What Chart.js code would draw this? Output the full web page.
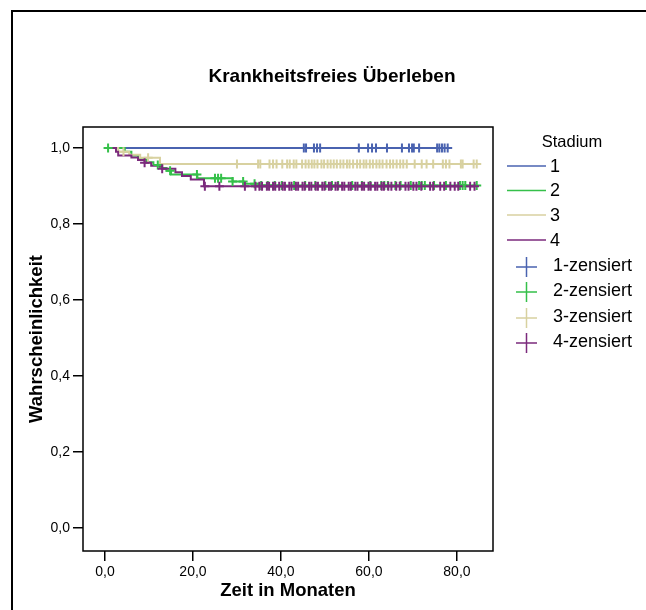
<!DOCTYPE html>
<html>
<head>
<meta charset="utf-8">
<title>Krankheitsfreies Überleben</title>
<script src="https://cdn.jsdelivr.net/npm/chart.js@4.4.1/dist/chart.umd.min.js"></script>
<style>
  html, body { margin: 0; padding: 0; background: #fff; }
  #wrap { position: relative; width: 646px; height: 610px; }
</style>
</head>
<body>
<div id="wrap"><canvas id="kmChart" width="646" height="610"></canvas></div>
<script>
// Kaplan-Meier steps per Stadium (Monate, Überlebensanteil)
const stadien = ['1', '2', '3', '4'];
const colors = ['#4a63b0', '#35c04a', '#d8d1a0', '#7b2a7c'];

const times1 = [0, 77.9];
const surv1 = [1, 1];
const times2 = [0, 4.5, 6.0, 7.5, 9.5, 11.0, 12.5, 14.0, 15.0, 21.0, 29.0, 31.5, 35.0, 84.5];
const surv2 = [1, 0.990, 0.980, 0.970, 0.962, 0.955, 0.947, 0.940, 0.930, 0.920, 0.912, 0.906, 0.901, 0.901];
const times3 = [0, 3.0, 5.5, 8.0, 12.5, 84.5];
const surv3 = [1, 0.990, 0.982, 0.974, 0.958, 0.958];
const times4 = [0, 2.5, 3.0, 6.0, 7.5, 9.0, 10.5, 13.0, 16.0, 17.5, 19.5, 22.5, 84.0];
const surv4 = [1, 0.990, 0.980, 0.975, 0.968, 0.961, 0.953, 0.945, 0.936, 0.926, 0.917, 0.899, 0.899];

// zensierte Fälle (Monate)
const cens1 = [45.2, 45.7, 47.5, 48.2, 48.9, 57.7, 59.8, 60.7, 61.6, 64.1, 67.5, 69.1, 69.8, 70.2, 71.4, 75.5, 76.0, 76.6, 77.2, 77.9];
const cens2 = [0.7, 12.0, 14.8, 20.9, 25.0, 25.7, 26.4, 29.0, 31.4, 34.0, 35.5, 37.0, 38.6, 40.2, 43.0, 45.5, 47.8, 50.1, 51.6, 53.0, 56.2, 58.4, 60.3, 62.8, 63.5, 64.3, 66.0, 67.2, 69.5, 71.4, 72.0, 72.7, 74.8, 77.5, 80.7, 81.3, 81.9, 84.5];
const cens3 = [4.2, 9.8, 30.0, 34.8, 35.3, 37.4, 38.2, 39.0, 40.3, 41.4, 42.0, 42.9, 43.5, 44.8, 45.6, 46.3, 47.0, 47.6, 48.3, 49.2, 49.8, 50.6, 51.3, 52.0, 52.7, 53.5, 54.2, 55.0, 55.6, 56.4, 57.3, 58.0, 58.8, 59.4, 60.2, 60.9, 61.7, 62.4, 63.1, 64.0, 64.8, 65.5, 66.3, 67.1, 67.8, 68.6, 70.4, 72.0, 73.1, 74.6, 76.8, 77.5, 78.3, 80.9, 81.3, 83.8, 84.5];
const cens4 = [9.0, 13.0, 22.7, 26.0, 31.8, 34.2, 35.1, 35.7, 36.8, 37.3, 38.2, 38.7, 39.6, 40.4, 40.9, 41.9, 42.4, 43.4, 43.9, 44.9, 45.4, 46.4, 46.9, 47.9, 48.4, 49.4, 49.9, 50.9, 51.4, 52.4, 52.9, 53.9, 54.4, 55.4, 55.9, 56.9, 57.4, 58.4, 58.9, 59.9, 60.4, 61.4, 61.9, 62.9, 63.4, 64.4, 65.1, 66.2, 67.0, 68.3, 69.0, 70.1, 70.8, 71.9, 73.9, 74.6, 76.2, 77.1, 78.5, 79.5, 80.3, 83.0, 84.0];

const xTicks = [0, 20, 40, 60, 80];
const yTicks = [0, 0.2, 0.4, 0.6, 0.8, 1.0];

const allTimes = [times1, times2, times3, times4];
const allSurv = [surv1, surv2, surv3, surv4];
const allCens = [cens1, cens2, cens3, cens4];

function survAt(times, surv, t) {
  let s = surv[0];
  for (let i = 0; i < times.length; i++) {
    if (times[i] <= t) s = surv[i];
  }
  return s;
}

const datasets = [];
stadien.forEach((s, i) => {
  datasets.push({
    label: s,
    type: 'line',
    data: allTimes[i].map((t, j) => ({ x: t, y: allSurv[i][j] })),
    borderColor: colors[i],
    borderWidth: 2,
    stepped: 'before',
    pointRadius: 0,
    fill: false,
    order: 7 - i
  });
});
stadien.forEach((s, i) => {
  datasets.push({
    label: s + '-zensiert',
    type: 'scatter',
    data: allCens[i].map(t => ({ x: t, y: survAt(allTimes[i], allSurv[i], t) })),
    borderColor: colors[i],
    backgroundColor: colors[i],
    pointStyle: 'cross',
    pointRadius: 4.5,
    borderWidth: 2,
    showLine: false,
    order: 3 - i
  });
});

const fontFam = 'Arial, "Liberation Sans", sans-serif';

const decoPlugin = {
  id: 'deco',
  beforeDraw(chart) {
    const ctx = chart.ctx;
    ctx.save();
    ctx.fillStyle = '#fff';
    ctx.fillRect(0, 0, chart.width, chart.height);
    ctx.strokeStyle = '#000';
    ctx.lineWidth = 2;
    ctx.beginPath();
    ctx.moveTo(12, 700);
    ctx.lineTo(12, 11);
    ctx.lineTo(700, 11);
    ctx.stroke();
    ctx.restore();
  },
  afterDraw(chart) {
    const ctx = chart.ctx;
    const a = chart.chartArea;
    ctx.save();
    // plot frame
    ctx.strokeStyle = '#000';
    ctx.lineWidth = 1.5;
    ctx.strokeRect(a.left, a.top, a.right - a.left, a.bottom - a.top);
    // title
    ctx.fillStyle = '#000';
    ctx.font = 'bold 19px ' + fontFam;
    ctx.textAlign = 'center';
    ctx.textBaseline = 'middle';
    ctx.fillText('Krankheitsfreies Überleben', 332, 77);
    // legend
    ctx.font = '16.5px ' + fontFam;
    ctx.fillText('Stadium', 572, 142);
    ctx.textAlign = 'left';
    ctx.font = '18px ' + fontFam;
    const lineY = [166, 190.5, 215, 240];
    const crossY = [267, 292, 318, 343];
    stadien.forEach((s, i) => {
      ctx.strokeStyle = colors[i];
      ctx.lineWidth = 1.5;
      ctx.beginPath();
      ctx.moveTo(507, lineY[i]);
      ctx.lineTo(546, lineY[i]);
      ctx.stroke();
      ctx.fillStyle = '#000';
      ctx.fillText(s, 550, lineY[i] + 1);
      const cy = crossY[i];
      ctx.beginPath();
      ctx.moveTo(516, cy);
      ctx.lineTo(537, cy);
      ctx.moveTo(526.5, cy - 10);
      ctx.lineTo(526.5, cy + 10);
      ctx.stroke();
      ctx.fillText(s + '-zensiert', 553, cy - 1);
    });
    ctx.restore();
  }
};

new Chart(document.getElementById('kmChart'), {
  type: 'scatter',
  data: { datasets: datasets },
  plugins: [decoPlugin],
  options: {
    responsive: false,
    animation: false,
    devicePixelRatio: 1,
    layout: { padding: { left: 0, top: 127, right: 153, bottom: 0 } },
    plugins: {
      legend: { display: false },
      tooltip: { enabled: false },
      title: { display: false }
    },
    scales: {
      x: {
        type: 'linear',
        min: -5,
        max: 88.2,
        afterFit: (scale) => { scale.height = 59; },
        afterBuildTicks: (scale) => { scale.ticks = xTicks.map(v => ({ value: v })); },
        border: { display: false },
        grid: { drawOnChartArea: false, drawTicks: true, tickLength: 10, color: '#000', lineWidth: 1.5 },
        ticks: {
          color: '#000',
          padding: 3,
          font: { family: fontFam, size: 14 },
          callback: (v) => v.toFixed(1).replace('.', ',')
        },
        title: {
          display: true,
          text: 'Zeit in Monaten',
          color: '#000',
          font: { family: fontFam, size: 18.5, weight: 'bold' },
          padding: { top: 0, bottom: 8 }
        }
      },
      y: {
        type: 'linear',
        min: -0.06,
        max: 1.055,
        afterFit: (scale) => { scale.width = 83; },
        afterBuildTicks: (scale) => { scale.ticks = yTicks.map(v => ({ value: v })); },
        border: { display: false },
        grid: { drawOnChartArea: false, drawTicks: true, tickLength: 10, color: '#000', lineWidth: 1.5 },
        ticks: {
          color: '#000',
          padding: 3,
          font: { family: fontFam, size: 14 },
          callback: (v) => v.toFixed(1).replace('.', ',')
        },
        title: {
          display: true,
          text: 'Wahrscheinlichkeit',
          color: '#000',
          font: { family: fontFam, size: 18.5, weight: 'bold' },
          padding: { top: 26, bottom: 0 }
        }
      }
    }
  }
});
</script>
</body>
</html>
